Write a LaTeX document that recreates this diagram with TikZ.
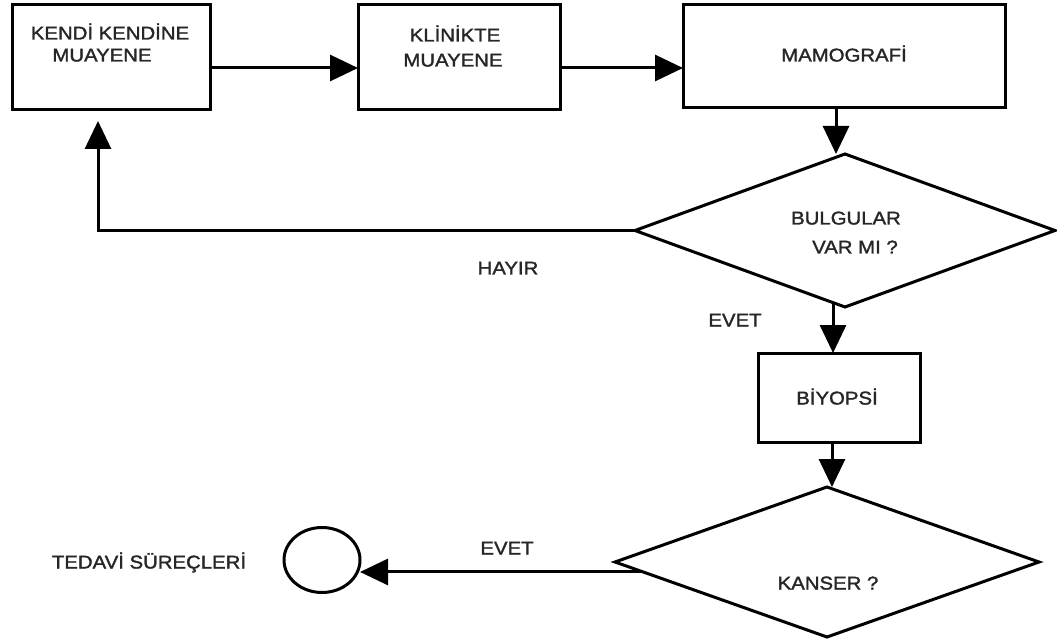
\documentclass[tikz,border=0pt]{standalone}
\usepackage{fontspec}
\setmainfont[FakeStretch=1.1,FakeBold=1.6]{Liberation Sans}
\usetikzlibrary{arrows.meta,shapes.geometric,calc}
\begin{document}
\begin{tikzpicture}[x=1pt,y=-1pt,
  box/.style={draw, line width=3pt, rectangle, inner sep=0pt, outer sep=0pt},
  dia/.style={draw, line width=3pt, diamond, inner sep=0pt, outer sep=0pt},
  oval/.style={draw, line width=3pt, ellipse, inner sep=0pt, outer sep=0pt},
  txt/.style={font=\fontsize{18.5}{20}\selectfont, text=black!85, inner sep=0pt, text height=13pt, text depth=0pt},
  arr/.style={line width=3pt, -{Triangle[length=28pt,width=26pt]}},
]
\useasboundingbox (0,0) rectangle (1057,644);
% boxes
\node[box, minimum width=198pt, minimum height=105pt] (b1) at (111,57.5) {};
\node[box, minimum width=202pt, minimum height=105pt] (b2) at (459,57.5) {};
\node[box, minimum width=322pt, minimum height=103pt] (b3) at (844,56.5) {};
\node[dia, minimum width=420pt, minimum height=153pt] (d1) at (845,230.5) {};
\node[box, minimum width=162pt, minimum height=89pt] (bio) at (839,397.5) {};
\node[dia, minimum width=424pt, minimum height=150pt] (d2) at (827,562) {};
\node[oval, minimum width=76pt, minimum height=65pt] (c) at (322,560) {};
% texts
\node[txt] (t1a) at (110,33) {KENDİ KENDİNE};
\node[txt] (t1b) at (102,55) {MUAYENE};
\node[txt] (t2a) at (455,35) {KLİNİKTE};
\node[txt] (t2b) at (453,60) {MUAYENE};
\node[txt] (t3) at (844,55) {MAMOGRAFİ};
\node[txt] (t4a) at (846,218) {BULGULAR};
\node[txt] (t4b) at (855,247) {VAR MI ?};
\node[txt] (hayir) at (508,268) {HAYIR};
\node[txt] (evet1) at (735,320) {EVET};
\node[txt] (t5) at (837,398) {BİYOPSİ};
\node[txt] (t6) at (828,583) {KANSER ?};
\node[txt] (evet2) at (507,548) {EVET};
\node[txt] (tedavi) at (149,562) {TEDAVİ SÜREÇLERİ};
% connectors
\draw[arr] ([yshift=-10.5pt]b1.east) -- ([yshift=-10.5pt]b2.west);
\draw[arr] ([yshift=-10.5pt]b2.east) -- ([yshift=-11.5pt]b3.west);
\draw[arr] ([xshift=-8pt]b3.south) -- ([xshift=-8pt]b3.south |- d1.north);
\coordinate (s1) at ($(d1.south)!0.057!(d1.west)$);
\draw[arr] (s1) -- (s1 |- bio.north);
\draw[arr] ([xshift=-7pt]bio.south) -- ([xshift=-7pt]bio.south |- d2.north);
\draw[arr, shorten >=11pt] (d1.west) -| ([xshift=-13pt]b1.south);
\coordinate (e) at ($(d2.west)!0.133!(d2.south)$);
\draw[arr] (e) -- (e -| c.east);
\end{tikzpicture}
\end{document}
